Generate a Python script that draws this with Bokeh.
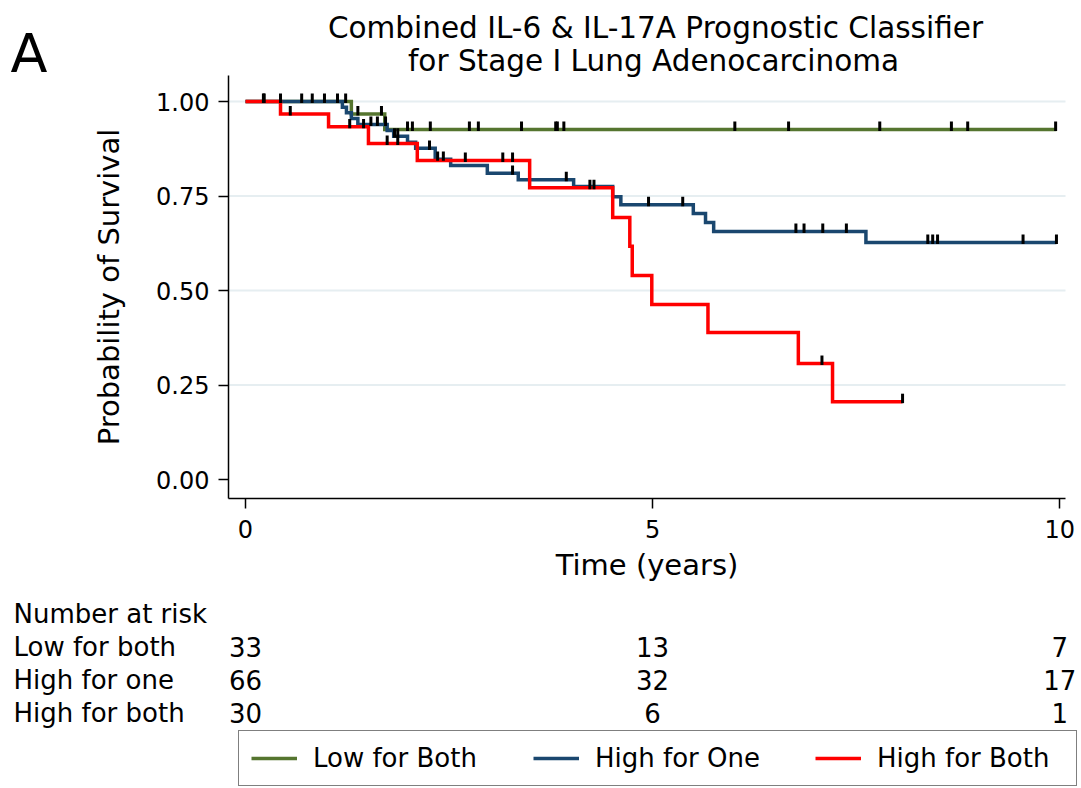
import numpy as np
from bokeh.plotting import figure
from bokeh.models import Range1d, FixedTicker, Legend, LegendItem, NumeralTickFormatter, LinearAxis
from bokeh.core.properties import value
from bokeh.embed import file_html
from bokeh.resources import INLINE

FONT = "DejaVu Sans"

# ---------------- data ----------------
group_names = ["Low for Both", "High for One", "High for Both"]
group_colors = ["#55752f", "#1a476f", "#ff0000"]

# Kaplan-Meier step times (years) and survival after each step
low_t = [0.0, 1.30, 1.71]
low_s = [1.0, 0.967, 0.926]
low_end = 9.96
low_cens = [0.69, 0.97, 1.23, 1.38, 1.67, 1.99, 2.05, 2.27, 2.75, 2.86, 3.39,
            3.81, 3.83, 3.91, 6.01, 6.67, 7.79, 8.67, 8.87, 9.95]

one_t = [0.0, 1.19, 1.24, 1.30, 1.38, 1.74, 1.82, 1.99, 2.09, 2.33, 2.52, 2.97,
         3.35, 4.03, 4.51, 4.61, 5.50, 5.65, 5.75, 7.62]
one_s = [1.0, 0.985, 0.970, 0.955, 0.939, 0.923, 0.908, 0.892, 0.876, 0.847,
         0.831, 0.810, 0.793, 0.775, 0.748, 0.727, 0.704, 0.680, 0.656, 0.627]
one_end = 9.96
one_cens = [0.22, 0.23, 0.43, 0.82, 1.13, 1.54, 1.62, 1.72, 1.83, 1.87, 2.26,
            2.36, 2.43, 3.28, 3.94, 4.95, 5.37, 6.76, 6.86, 7.09, 7.38, 8.38,
            8.44, 8.50, 9.55, 9.96]

both_t = [0.0, 0.43, 1.02, 1.51, 2.11, 3.49, 4.51, 4.72, 4.75, 4.99, 5.68, 6.79, 7.21]
both_s = [1.0, 0.967, 0.933, 0.889, 0.844, 0.772, 0.693, 0.617, 0.540, 0.463,
          0.389, 0.307, 0.206]
both_end = 8.07
both_cens = [0.55, 1.28, 1.45, 1.74, 1.87, 2.70, 3.16, 3.28, 4.23, 4.28, 7.08, 8.07]

# number at risk table
risk_times = [0, 5, 10]
risk_labels = ["Low for both", "High for one", "High for both"]
risk_low = [33, 13, 7]
risk_one = [66, 32, 17]
risk_both = [30, 6, 1]

x_ticks = [0, 5, 10]
y_ticks = [0.0, 0.25, 0.5, 0.75, 1.0]
grid_ticks = [0.25, 0.5, 0.75, 1.0]

title_lines = ["Combined IL-6 & IL-17A Prognostic Classifier", "for Stage I Lung Adenocarcinoma"]
panel_letter = "A"

# ---------------- layout (page pixels) ----------------
W, H = 1080, 788
X0_PX, X_PER_UNIT = 245.0, 81.42   # page x of t = 0, pixels per year
Y0_PX, Y_PER_UNIT = 479.0, 378.0   # page y of S = 0, pixels per unit


def X(px):
    return (px - X0_PX) / X_PER_UNIT


def Y(py):
    return (Y0_PX - py) / Y_PER_UNIT


XMIN, XMAX = X(228), X(1065)   # plot-area extent
YMIN, YMAX = Y(498), Y(75)

# the frame covers the whole canvas; axes are pinned at the plot-area edges
p = figure(width=W, height=H, output_backend="svg", toolbar_location=None,
           x_range=Range1d(X(0), X(W)), y_range=Range1d(Y(H), Y(0)),
           x_axis_location=None, y_axis_location=None,
           min_border=0, min_border_left=0, min_border_right=0,
           min_border_top=0, min_border_bottom=0)
p.outline_line_color = None
p.grid.visible = False
p.background_fill_color = "white"
p.border_fill_color = "white"

# light horizontal grid lines at the y ticks
p.segment(x0=[XMIN] * len(grid_ticks), x1=[XMAX] * len(grid_ticks), y0=grid_ticks, y1=grid_ticks,
          line_color="#e6eef1", line_width=2)

xaxis = LinearAxis(fixed_location=YMIN, bounds=(XMIN, XMAX), ticker=FixedTicker(ticks=x_ticks),
                   axis_label="Time (years)")
yaxis = LinearAxis(fixed_location=XMIN, bounds=(YMIN, YMAX), ticker=FixedTicker(ticks=y_ticks),
                   formatter=NumeralTickFormatter(format="0.00"),
                   axis_label="Probability of Survival")
for ax in (xaxis, yaxis):
    ax.axis_line_color = "black"
    ax.axis_line_width = 1.5
    ax.major_tick_line_color = "black"
    ax.major_tick_line_width = 1.5
    ax.major_tick_out = 10
    ax.major_tick_in = 0
    ax.minor_tick_line_color = None
    ax.major_label_text_font = FONT
    ax.major_label_text_font_size = "24px"
    ax.major_label_text_color = "black"
    ax.axis_label_text_font = FONT
    ax.axis_label_text_font_size = "29px"
    ax.axis_label_text_font_style = "normal"
    ax.axis_label_text_color = "black"
xaxis.major_label_standoff = 11
xaxis.axis_label_standoff = 7
yaxis.major_label_standoff = 9
yaxis.axis_label_standoff = 27
p.add_layout(xaxis, "below")
p.add_layout(yaxis, "left")


def surv_at(ts, ss, t):
    i = int(np.searchsorted(ts, t, side="right")) - 1
    return ss[i]


groups = [(low_t, low_s, low_end, low_cens),
          (one_t, one_s, one_end, one_cens),
          (both_t, both_s, both_end, both_cens)]
renderers = []
for (ts, ss, end, cens), col in zip(groups, group_colors):
    xs = list(ts) + [end]
    ys = list(ss) + [ss[-1]]
    renderers.append(p.step(xs, ys, mode="after", line_color=col, line_width=3.5, line_join="miter"))

for (ts, ss, end, cens) in groups:
    cs = [surv_at(ts, ss, c) for c in cens]
    p.segment(x0=cens, y0=[s - 0.004 for s in cs], x1=cens, y1=[s + 0.021 for s in cs],
              line_color="black", line_width=3)


def txt(xs, ys, texts, size, align="left"):
    p.text(x=xs, y=ys, text=texts, text_font=value(FONT), text_font_size=value(size),
           text_align=align, text_baseline="alphabetic", text_color="black")


# panel letter and title
txt([X(10)], [Y(53)], [panel_letter], "54px")
txt([X(655), X(653)], [Y(27), Y(60)], title_lines, "29.5px", align="center")

# number at risk table
txt([X(13)], [Y(613)], ["Number at risk"], "26px")
row_base = [646, 679, 712]
txt([X(13)] * 3, [Y(b) for b in row_base], risk_labels, "26px")
for b, counts in zip(row_base, [risk_low, risk_one, risk_both]):
    txt(risk_times, [Y(b)] * len(risk_times), [str(n) for n in counts], "26px", align="center")

# legend (box near the bottom of the canvas)
legend = Legend(items=[LegendItem(label=n, renderers=[r]) for n, r in zip(group_names, renderers)],
                orientation="horizontal", location=(238, 2))
legend.label_text_font = FONT
legend.label_text_font_size = "26px"
legend.label_text_color = "black"
legend.glyph_width = 46
legend.glyph_height = 24
legend.label_standoff = 16
legend.label_width = 187
legend.spacing = 33
legend.padding = 12
legend.margin = 0
legend.border_line_color = "black"
legend.border_line_width = 1.5
legend.background_fill_color = "white"
legend.background_fill_alpha = 1.0
p.add_layout(legend)

open("out.html", "w").write(file_html(p, INLINE))
